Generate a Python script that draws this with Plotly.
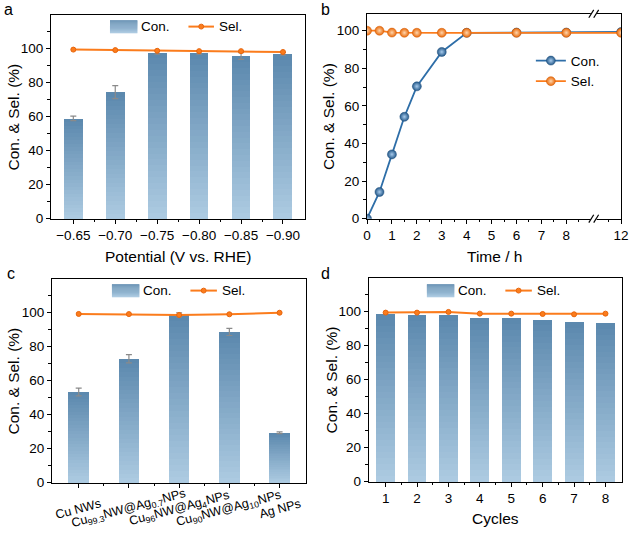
import plotly.graph_objects as go

# ---------------- data ----------------
potentials = ["−0.65", "−0.70", "−0.75", "−0.80", "−0.85", "−0.90"]
a_con = [59.0, 74.5, 97.9, 97.7, 95.7, 97.0]
a_con_err = [1.3, 3.8, 1.0, 0.8, 2.0, 0.8]
a_sel = [99.5, 99.2, 98.8, 98.6, 98.6, 98.1]

time_h = [0, 0.5, 1, 1.5, 2, 3, 4, 6, 8, 12]
b_con = [0, 14.2, 34.2, 54.2, 70.4, 88.7, 98.9, 99.0, 99.0, 99.3]
b_sel = [100, 100, 99.0, 98.9, 98.9, 98.9, 98.9, 98.9, 98.9, 98.9]
time_ticks = [0, 1, 2, 3, 4, 5, 6, 7, 8, 12]
time_minor = [0.5, 1.5, 2.5, 3.5, 4.5, 5.5, 6.5, 7.5, 8.5, 11.5]

catalysts = ["Cu NWs",
             "Cu<sub>99.3</sub>NW@Ag<sub>0.7</sub>NPs",
             "Cu<sub>96</sub>NW@Ag<sub>4</sub>NPs",
             "Cu<sub>90</sub>NW@Ag<sub>10</sub>NPs",
             "Ag NPs"]
c_con = [53.4, 72.9, 98.8, 88.7, 29.4]
c_con_err = [2.3, 2.4, 1.2, 2.1, 0.5]
c_sel = [99.3, 99.2, 98.7, 99.1, 100.0]

cycles = [1, 2, 3, 4, 5, 6, 7, 8]
d_con = [99.1, 98.2, 98.4, 96.2, 96.4, 95.5, 94.2, 93.3]
d_sel = [99.5, 99.5, 99.9, 98.9, 98.9, 98.7, 98.5, 98.9]

y_major = [0, 20, 40, 60, 80, 100]

# ---------------- styling ----------------
W, H = 636, 535
FONT = "Arial, 'Liberation Sans', Helvetica, sans-serif"
DARK = (92, 137, 174)
LIGHT = (172, 202, 225)
ORANGE = "#fb7c1c"
ORANGE_EDGE = "#e8650c"
BLUE = "#2e6ea8"

# axis boxes in pixels: (left, right, top, bottom)
BOX = {
    "a": (48, 307, 15, 222),
    "b": (370, 629, 14, 222),
    "c": (49, 308, 283, 490),
    "d": (372, 630, 282, 489),
}


def xd(k):
    l, r, t, b = BOX[k]
    return [l / W, r / W]


def yd(k):
    l, r, t, b = BOX[k]
    return [1 - b / H, 1 - t / H]


def px(x):
    return x / W


def py(y):
    return 1 - y / H


def lerp(c1, c2, f):
    return "rgb(%d,%d,%d)" % tuple(round(a + (b - a) * f) for a, b in zip(c1, c2))


BREAK_LO, BREAK_HI = 9.1, 10.9


def tmap(t):
    return t if t <= BREAK_LO else t - (BREAK_HI - BREAK_LO)


fig = go.Figure()
NSL = 28


def gradient_bars(xs, vals, width, xa, ya):
    for k in range(NSL):
        f = k / (NSL - 1)
        fig.add_trace(go.Bar(
            x=xs, y=[v * (NSL - k) / NSL for v in vals], width=width,
            marker=dict(color=lerp(DARK, LIGHT, f), line=dict(width=0)),
            xaxis=xa, yaxis=ya, showlegend=False, hoverinfo="skip"))


def err_trace(xs, vals, errs, xa, ya):
    fig.add_trace(go.Scatter(
        x=xs, y=vals, mode="markers", marker=dict(size=1, opacity=0),
        error_y=dict(type="data", array=errs, color="#8a8a8a", thickness=1.2, width=3),
        xaxis=xa, yaxis=ya, showlegend=False, hoverinfo="skip"))


def sel_trace(xs, vals, xa, ya):
    fig.add_trace(go.Scatter(
        x=xs, y=vals, mode="lines+markers",
        line=dict(color=ORANGE, width=2),
        marker=dict(size=5, color=ORANGE, line=dict(color=ORANGE_EDGE, width=1)),
        xaxis=xa, yaxis=ya, showlegend=False, cliponaxis=False))


# panel a
xa_pos = list(range(len(potentials)))
gradient_bars(xa_pos, a_con, 0.45, "x", "y")
err_trace(xa_pos, a_con, a_con_err, "x", "y")
sel_trace(xa_pos, a_sel, "x", "y")

# panel b
tb = [tmap(t) for t in time_h]
fig.add_trace(go.Scatter(
    x=tb, y=b_con, mode="lines+markers", name="Con.",
    line=dict(color=BLUE, width=1.8),
    marker=dict(size=9, color="#24598a", gradient=dict(type="radial", color="#a8cbec"),
                line=dict(color="#1f4f7c", width=0.5)),
    xaxis="x2", yaxis="y2", legend="legend"))
fig.add_trace(go.Scatter(
    x=tb, y=b_sel, mode="lines+markers", name="Sel.",
    line=dict(color=ORANGE, width=1.8),
    marker=dict(size=9, color="#e8690a", gradient=dict(type="radial", color="#ffd6ad"),
                line=dict(color="#d45f08", width=0.5)),
    xaxis="x2", yaxis="y2", legend="legend"))

# panel c
xc_pos = list(range(len(catalysts)))
gradient_bars(xc_pos, c_con, 0.41, "x3", "y3")
err_trace(xc_pos, c_con, c_con_err, "x3", "y3")
sel_trace(xc_pos, c_sel, "x3", "y3")

# panel d
gradient_bars(cycles, d_con, 0.6, "x4", "y4")
sel_trace(cycles, d_sel, "x4", "y4")

# ---------------- axes ----------------
base_ax = dict(showline=True, linecolor="black", linewidth=1.3, mirror=True,
               ticks="outside", ticklen=4, tickwidth=1.2, tickcolor="black",
               showgrid=False, zeroline=False, ticklabeloverflow="allow",
               tickfont=dict(size=13.5, color="black", family=FONT))


def minor(vals):
    return dict(ticks="outside", ticklen=2.5, tickwidth=1, tickcolor="black",
                tickmode="array", tickvals=vals)


n_a = len(potentials)
fig.update_layout(
    xaxis=dict(base_ax, domain=xd("a"), anchor="y", range=[-0.53, n_a - 1 + 0.53],
               tickmode="array", tickvals=xa_pos, ticktext=potentials,
               minor=minor([i + 0.5 for i in range(n_a - 1)])),
    yaxis=dict(base_ax, domain=yd("a"), anchor="x", range=[0, 120],
               tickmode="array", tickvals=y_major, minor=minor([10, 30, 50, 70, 90, 110])),
    xaxis2=dict(base_ax, domain=xd("b"), anchor="y2", range=[0, tmap(12)],
                tickmode="array", tickvals=[tmap(t) for t in time_ticks],
                ticktext=[str(t) for t in time_ticks],
                minor=minor([tmap(t) for t in time_minor])),
    yaxis2=dict(base_ax, domain=yd("b"), anchor="x2", range=[0, 109],
                tickmode="array", tickvals=y_major, minor=minor([10, 30, 50, 70, 90])),
    xaxis3=dict(base_ax, domain=xd("c"), anchor="y3", range=[-0.53, len(catalysts) - 1 + 0.53],
                tickmode="array", tickvals=xc_pos, showticklabels=False,
                minor=minor([i + 0.5 for i in range(len(catalysts) - 1)])),
    yaxis3=dict(base_ax, domain=yd("c"), anchor="x3", range=[0, 120],
                tickmode="array", tickvals=y_major, minor=minor([10, 30, 50, 70, 90, 110])),
    xaxis4=dict(base_ax, domain=xd("d"), anchor="y4", range=[0.47, 8.53],
                tickmode="array", tickvals=cycles,
                minor=minor([c + 0.5 for c in cycles[:-1]])),
    yaxis4=dict(base_ax, domain=yd("d"), anchor="x4", range=[0, 120],
                tickmode="array", tickvals=y_major, minor=minor([10, 30, 50, 70, 90, 110])),
)

# ---------------- annotations ----------------
ann = []


def text(x, y, s, size=15, xanchor="center", angle=0, xref="paper", yref="paper",
         yanchor="middle"):
    ann.append(dict(x=x, y=y, xref=xref, yref=yref, text=s, showarrow=False,
                    xanchor=xanchor, yanchor=yanchor, textangle=angle, borderpad=0,
                    font=dict(size=size, color="black", family=FONT)))


# panel letters
text(px(5), py(0), "a", 16, yanchor="top")
text(px(328), py(0), "b", 16, yanchor="top")
text(px(7), py(268), "c", 16, yanchor="top")
text(px(328), py(268), "d", 16, yanchor="top")

# axis titles
YT = "Con. &amp; Sel. (%)"
for k, xt in (("a", 10), ("b", 330), ("c", 10), ("d", 334)):
    l, r, t, b = BOX[k]
    text(px(xt), py((t + b) / 2), YT, 15.5, angle=-90)
text(px((BOX["a"][0] + BOX["a"][1]) / 2), py(260), "Potential (V vs. RHE)", 15.5)
text(px((BOX["b"][0] + BOX["b"][1]) / 2), py(260), "Time / h", 15.5)
text(px((BOX["d"][0] + BOX["d"][1]) / 2), py(526), "Cycles", 15.5)

# category labels (rotated about their centre)
for i, lab in enumerate(catalysts):
    text(xc_pos[i], py(517), lab, 12.5, angle=-15, xref="x3")

# custom legends for bar panels
shapes = []


def legend_bar_sel(x0, yc, con_text_x, lx0, lx1, sel_text_x):
    nst = 12
    top, bot = yc - 6.5, yc + 6.5
    for k in range(nst):
        y0 = top + (bot - top) * k / nst
        y1 = top + (bot - top) * (k + 1) / nst
        shapes.append(dict(type="rect", xref="paper", yref="paper",
                           x0=px(x0), x1=px(x0 + 28), y0=py(y0), y1=py(y1 + 0.3),
                           fillcolor=lerp(DARK, LIGHT, k / (nst - 1)), line=dict(width=0)))
    text(px(con_text_x), py(yc), "Con.", 13.5, xanchor="left")
    shapes.append(dict(type="line", xref="paper", yref="paper",
                       x0=px(lx0), x1=px(lx1), y0=py(yc), y1=py(yc),
                       line=dict(color=ORANGE, width=2)))
    mc = (lx0 + lx1) / 2
    shapes.append(dict(type="circle", xref="paper", yref="paper",
                       x0=px(mc - 2.5), x1=px(mc + 2.5), y0=py(yc - 2.5), y1=py(yc + 2.5),
                       fillcolor=ORANGE, line=dict(color=ORANGE_EDGE, width=1)))
    text(px(sel_text_x), py(yc), "Sel.", 13.5, xanchor="left")


legend_bar_sel(108, 27, 139, 188, 214, 218)
legend_bar_sel(110, 295, 141, 190, 217, 221)
legend_bar_sel(431, 295, 462, 511, 538, 542)

# axis break marks on panel b
bl, br, bt, bb = BOX["b"]
bx = bl + (tmap(BREAK_LO) - 0) / (tmap(12) - 0) * (br - bl)
for yline in (bt, bb):
    shapes.append(dict(type="rect", xref="paper", yref="paper", layer="above",
                       x0=px(bx - 3), x1=px(bx + 3), y0=py(yline - 2), y1=py(yline + 2),
                       fillcolor="white", line=dict(width=0)))
    for dx in (-2.5, 2.5):
        shapes.append(dict(type="line", xref="paper", yref="paper", layer="above",
                           x0=px(bx + dx - 2.5), x1=px(bx + dx + 2.5),
                           y0=py(yline + 4), y1=py(yline - 4),
                           line=dict(color="black", width=1.2)))

fig.update_layout(
    width=W, height=H, margin=dict(l=0, r=0, t=0, b=0),
    paper_bgcolor="white", plot_bgcolor="white",
    font=dict(family=FONT, color="black"),
    barmode="overlay", bargap=0,
    annotations=ann, shapes=shapes,
    showlegend=True,
    legend=dict(x=px(537), y=py(46), xanchor="left", yanchor="top",
                bgcolor="rgba(0,0,0,0)", font=dict(size=13.5, color="black", family=FONT),
                itemwidth=30, tracegroupgap=0),
)

fig.write_html("out.html", config={"displayModeBar": False},
               post_script="document.body.style.margin='0';document.body.style.padding='0';")
